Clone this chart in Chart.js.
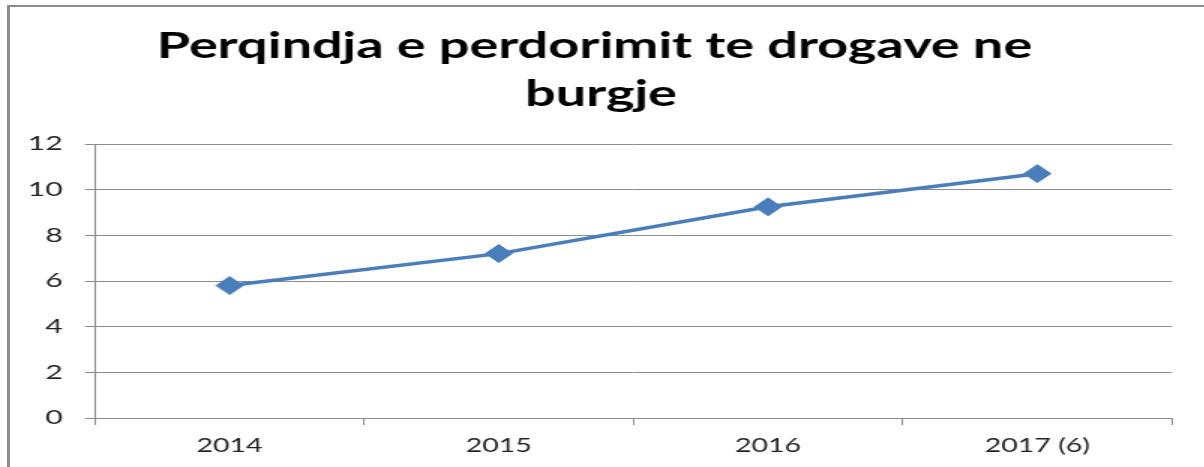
<!DOCTYPE html>
<html>
<head>
<meta charset="utf-8">
<script src="https://cdn.jsdelivr.net/npm/chart.js@4"></script>
<style>
  html, body { margin: 0; padding: 0; background: #fff; overflow: hidden; }
  body { width: 1204px; height: 467px; position: relative; }
  /* the source image was stretched sideways, so the chart is too */
  #wrap { position: absolute; left: 0; top: 0; transform: scaleX(1.5); transform-origin: 0 0; }
  #frame { position: absolute; left: 7px; top: 5px; width: 1300px; height: 600px;
           border-left: 3px solid #8c8c8c; border-top: 2px solid #8c8c8c; pointer-events: none; }
</style>
</head>
<body>
<div id="frame"></div>
<div id="wrap"><canvas id="chart" width="803" height="467"></canvas></div>
<script>
// Datos del grafico
const years = ['2014', '2015', '2016', '2017 (6)'];
const percentages = [5.8, 7.2, 9.25, 10.7];
const yTicks = [0, 2, 4, 6, 8, 10, 12];

const gridColor = '#8c8c8c';
const lineColor = '#4a7ebb';
const padLeft = 20;

const ctx = document.getElementById('chart').getContext('2d');

new Chart(ctx, {
    type: 'line',
    data: {
        labels: years,
        datasets: [{
            label: 'Perqindja',
            data: percentages,
            borderColor: lineColor,
            backgroundColor: lineColor,
            borderWidth: 3.5,
            pointStyle: 'rectRot',
            pointRadius: 9,
            pointBackgroundColor: lineColor,
            pointBorderColor: lineColor,
            pointBorderWidth: 1,
            tension: 0
        }]
    },
    options: {
        responsive: false,
        animation: false,
        layout: {
            padding: { left: padLeft, right: 21.7, top: 0, bottom: 0 }
        },
        plugins: {
            legend: { display: false },
            tooltip: { enabled: false },
            title: {
                display: true,
                // el espacio final imita el centrado de Excel
                text: ['Perqindja e perdorimit te drogave ne ', 'burgje'],
                color: '#000',
                font: { family: 'Lato', size: 36, weight: 'bold', lineHeight: 48 / 36 },
                padding: { top: 22.1, bottom: 25.9 }
            }
        },
        scales: {
            x: {
                offset: true,
                grid: {
                    offset: true,
                    drawOnChartArea: false,
                    drawTicks: true,
                    tickLength: 7,
                    color: gridColor
                },
                border: { display: true, color: gridColor, width: 1 },
                ticks: {
                    color: '#222',
                    padding: 9.6,
                    font: { family: 'Lato', size: 19 }
                },
                afterFit: function(scale) { scale.height = 49; }
            },
            y: {
                min: 0,
                max: 12,
                afterBuildTicks: function(scale) {
                    scale.ticks = yTicks.map(v => ({ value: v }));
                },
                grid: {
                    color: gridColor,
                    tickLength: 6.7
                },
                border: { display: true, color: gridColor, width: 1 },
                ticks: {
                    color: '#222',
                    padding: 14.8,
                    font: { family: 'Lato', size: 20 }
                },
                afterFit: function(scale) { scale.width = 63.3 - padLeft; }
            }
        }
    }
});
</script>
</body>
</html>
